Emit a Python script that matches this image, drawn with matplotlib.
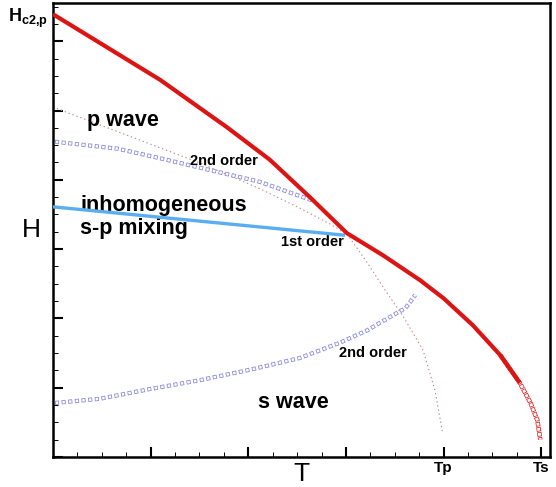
import numpy as np
import matplotlib
matplotlib.use("Agg")
import matplotlib.pyplot as plt
from matplotlib.ticker import MultipleLocator, FixedLocator

plt.rcParams['font.family'] = ['Liberation Sans', 'DejaVu Sans']
plt.rcParams['mathtext.fontset'] = 'custom'
plt.rcParams['mathtext.bf'] = 'Liberation Sans:bold'
plt.rcParams['mathtext.rm'] = 'Liberation Sans'
plt.rcParams['lines.scale_dashes'] = False

# upper critical field Hc2 (red, thick)
hc2_T = [0.0, 1.10, 1.78, 2.22, 2.63, 3.01, 3.38, 3.76, 4.0, 4.30, 4.58, 4.78]
hc2_H = [6.39, 5.44, 4.76, 4.29, 3.75, 3.23, 2.91, 2.55, 2.29, 1.90, 1.47, 1.07]
# tail of Hc2 drawn as squares
tail_T = [4.58, 4.78, 4.89, 4.96, 4.99]
tail_H = [1.47, 1.07, 0.78, 0.53, 0.25]

# p-wave boundary (thin dotted)
pw_T = [0.0, 1.10, 1.51, 2.12, 2.53, 2.84, 3.01, 3.22, 3.40, 3.59, 3.79, 3.91, 3.99]
pw_H = [5.05, 4.46, 4.24, 3.87, 3.59, 3.36, 3.22, 2.80, 2.41, 2.02, 1.54, 0.97, 0.35]

# 2nd order line, upper (squares)
up_T = [0.02, 0.66, 1.10, 1.61, 2.12, 2.66]
up_H = [4.55, 4.45, 4.31, 4.14, 3.97, 3.70]

# 1st order line (light blue)
first_T = [0.0, 2.99]
first_H = [3.61, 3.20]

# 2nd order line, lower (squares)
lo_T = [0.02, 0.48, 0.99, 1.51, 2.02, 2.53, 2.94, 3.22, 3.45, 3.61, 3.66, 3.71]
lo_H = [0.78, 0.84, 0.98, 1.11, 1.26, 1.43, 1.65, 1.83, 2.02, 2.15, 2.24, 2.34]

x_ticks = [1, 2, 3, 4, 5]
x_labels = ['', '', '', 'Tp', 'Ts']
Hc2p = 6.38


def square_line(ax, x, y, color, s=3.0, g=1.8, b=0.6, z=3):
    period = s + g
    ax.plot(x, y, color=color, lw=s, linestyle=(0, (s, g)),
            dash_capstyle='butt', zorder=z)
    ax.plot(x, y, color='white', lw=s - 2 * b,
            linestyle=(period - b, (s - 2 * b, g + 2 * b)),
            dash_capstyle='butt', zorder=z + 0.1)


fig = plt.figure(figsize=(5.56, 4.87), dpi=100)
ax = fig.add_axes([0.0953, 0.0616, 0.894, 0.932])

ax.plot(pw_T, pw_H, color='#c08a8a', lw=0.8, linestyle=(0, (1, 2)), zorder=2)
square_line(ax, up_T, up_H, '#8c8cdc')
square_line(ax, lo_T, lo_H, '#8c8cdc')
ax.plot(first_T, first_H, color='#5aaef0', lw=2.4, solid_capstyle='butt', zorder=4)
square_line(ax, tail_T, tail_H, '#d82020', s=3.2, g=0.5, b=0.55, z=5)
ax.plot(hc2_T, hc2_H, color='#dd1414', lw=3.0, solid_capstyle='butt',
        solid_joinstyle='round', zorder=6)

ax.set_xlim(0, 5.09)
ax.set_ylim(0, 6.55)

ax.xaxis.set_major_locator(FixedLocator(x_ticks))
ax.set_xticklabels(x_labels, fontsize=11, fontweight='bold')
ax.xaxis.set_minor_locator(MultipleLocator(0.25))
ax.yaxis.set_major_locator(MultipleLocator(1))
ax.yaxis.set_minor_locator(MultipleLocator(0.25))
ax.set_yticklabels([])
ax.tick_params(which='major', direction='in', length=7.5, width=1.5, pad=3)
ax.tick_params(which='minor', direction='in', length=3.5, width=0.7)
ax.tick_params(top=False, right=False, which='both')
for sp in ax.spines.values():
    sp.set_linewidth(1.8)

ax.set_xlabel('T', fontsize=19, va='center')
ax.xaxis.set_label_coords(0.5, -0.037)
ax.set_ylabel('H', fontsize=19, rotation=0, labelpad=12, va='center')

ax.text(-0.05, Hc2p - 0.05, r'$\mathbf{H_{c2{,}p}}$', fontsize=13,
        ha='right', va='center', transform=ax.transData, clip_on=False)

ax.text(0.35, 4.85, 'p wave', fontsize=15.5, fontweight='bold', va='center')
ax.text(0.28, 3.63, 'inhomogeneous', fontsize=15.5, fontweight='bold', va='center')
ax.text(0.28, 3.30, 's-p mixing', fontsize=15.5, fontweight='bold', va='center')
ax.text(2.10, 0.79, 's wave', fontsize=15.5, fontweight='bold', va='center')
ax.text(1.40, 4.27, '2nd order', fontsize=10.5, fontweight='bold', va='center')
ax.text(2.33, 3.10, '1st order', fontsize=10.5, fontweight='bold', va='center')
ax.text(2.93, 1.50, '2nd order', fontsize=10.5, fontweight='bold', va='center')

fig.savefig('out.png', dpi=100)
